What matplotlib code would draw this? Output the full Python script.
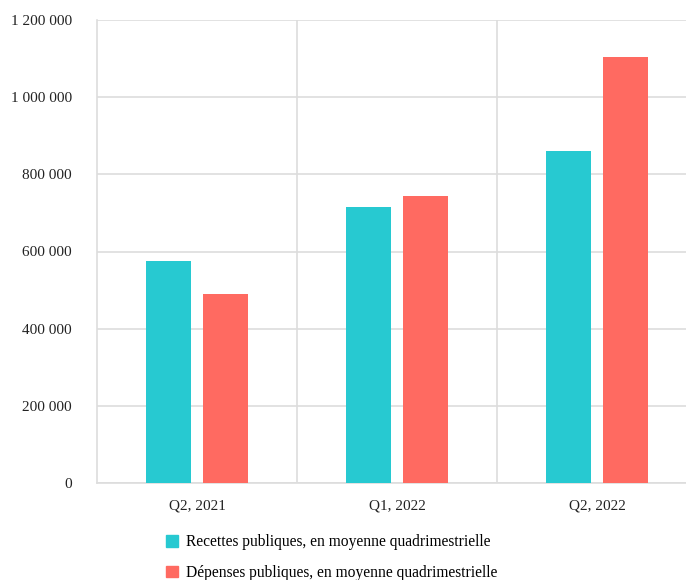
import matplotlib.pyplot as plt
import numpy as np
from matplotlib.ticker import FuncFormatter
from matplotlib.patches import Patch

plt.rcParams['font.family'] = ['Liberation Serif', 'DejaVu Serif']

categories = ['Q2, 2021', 'Q1, 2022', 'Q2, 2022']
recettes = [576000, 715000, 860000]
depenses = [490000, 744000, 1103000]
series_labels = ['Recettes publiques, en moyenne quadrimestrielle',
                 'Dépenses publiques, en moyenne quadrimestrielle']
colors = ['#27C9D1', '#FF6A61']

fig = plt.figure(figsize=(6.86, 5.8), dpi=100)
# la zone de tracé déborde à droite, comme dans l'export d'origine
ax = fig.add_axes([97 / 686, 1 - 483 / 580, 600 / 686, 463 / 580])

x = np.arange(len(categories))
w = 0.225
ax.bar(x - 0.1425, recettes, w, color=colors[0], zorder=3)
ax.bar(x + 0.1425, depenses, w, color=colors[1], zorder=3)

ax.set_xlim(-0.5, 2.5)
ax.set_ylim(0, 1200000)
ax.set_yticks(np.arange(0, 1200001, 200000))
ax.yaxis.set_major_formatter(FuncFormatter(lambda v, p: f'{int(v):,}'.replace(',', ' ')))
ax.set_xticks(x)
ax.set_xticklabels(categories)
ax.set_xticks([0.5, 1.5], minor=True)

ax.grid(axis='y', color='#DDDDDD', linewidth=1.2, zorder=0)
ax.grid(axis='x', which='minor', color='#DDDDDD', linewidth=1.2, zorder=0)
ax.tick_params(which='both', length=0, labelsize=11, colors='#222222')
ax.tick_params(axis='x', pad=12)
ax.tick_params(axis='y', pad=18)
for side in ['top', 'right']:
    ax.spines[side].set_visible(False)
for side in ['left', 'bottom']:
    ax.spines[side].set_color('#DDDDDD')
    ax.spines[side].set_linewidth(1.2)

handles = [Patch(color=c, label=l) for c, l in zip(colors, series_labels)]
fig.legend(handles=handles, loc='upper left', bbox_to_anchor=(154 / 686, 1 - 522 / 580),
           frameon=False, fontsize=11.2, handlelength=0.72, handleheight=0.72,
           handletextpad=0.55, labelspacing=0.95, borderpad=0.3)

plt.savefig('out.png')
